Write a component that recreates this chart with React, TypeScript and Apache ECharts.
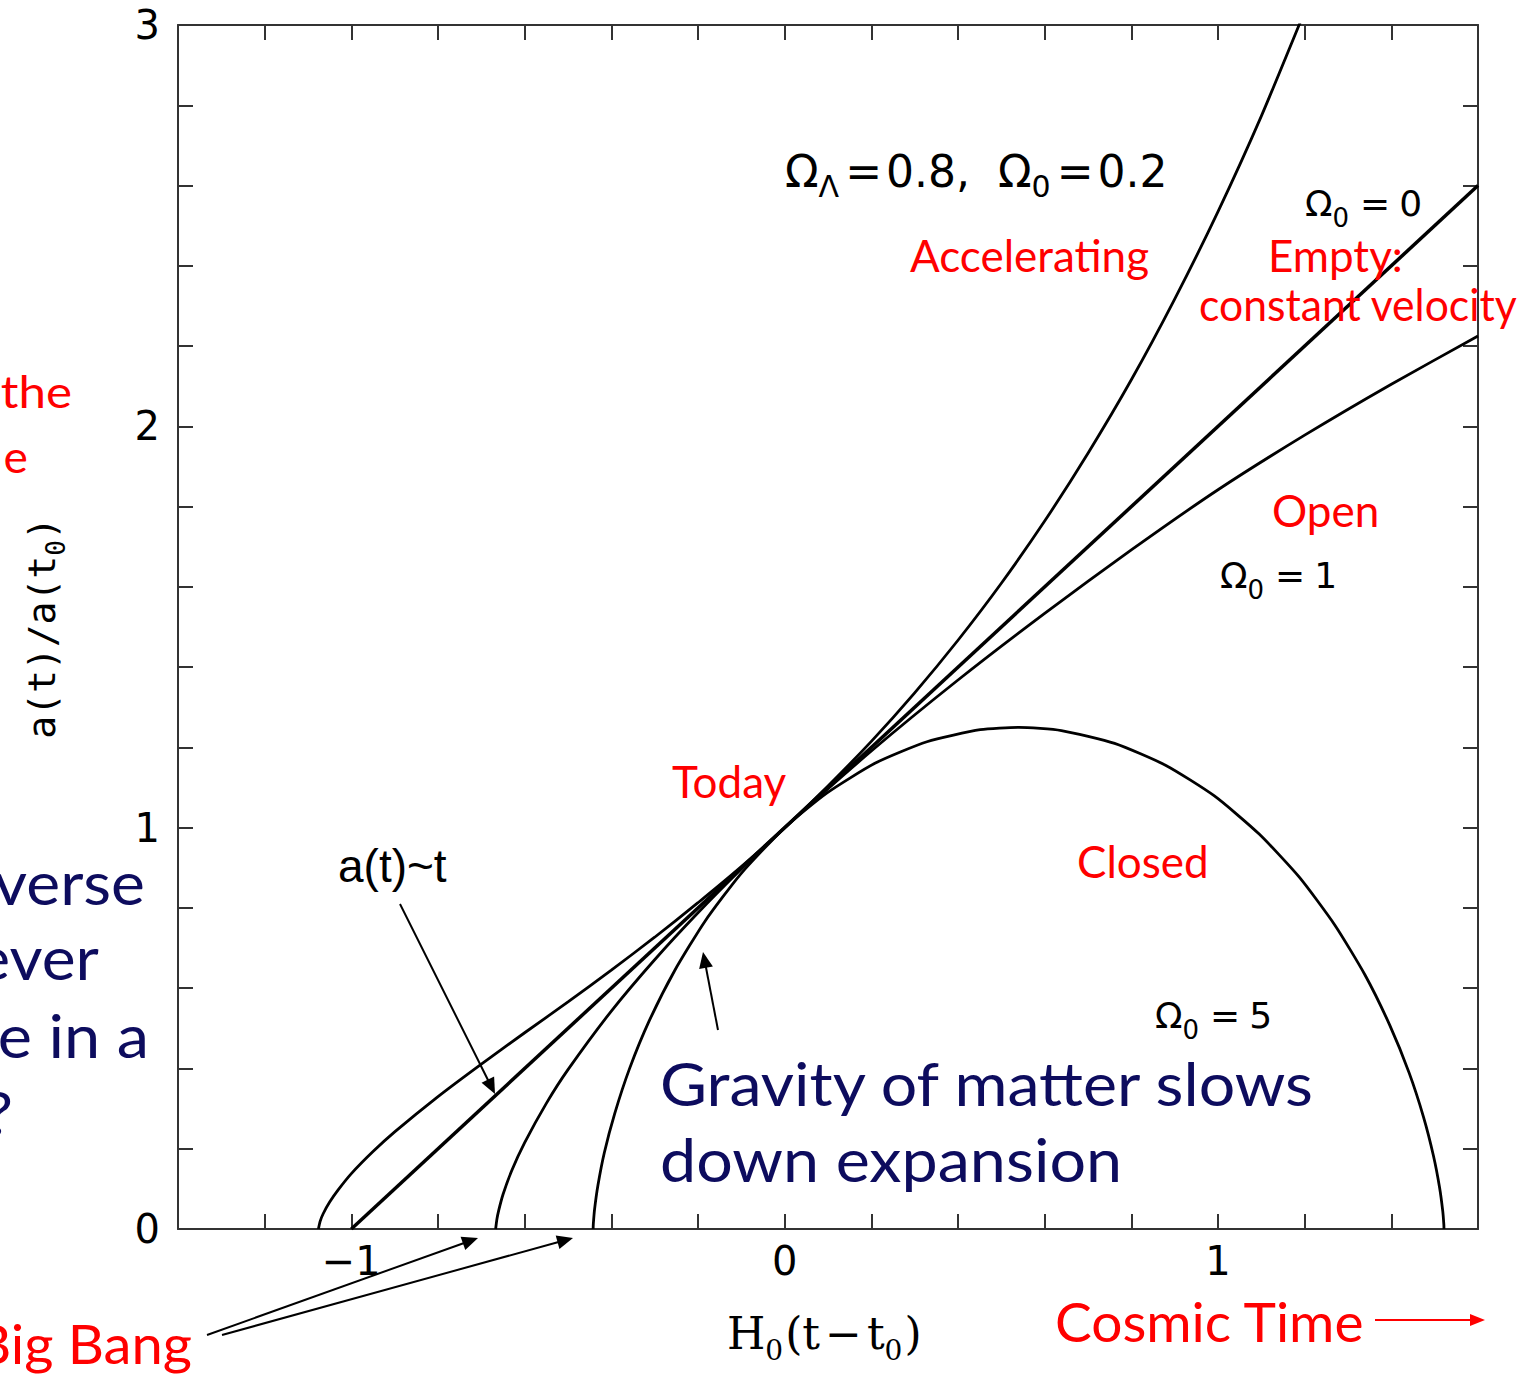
import React, { useEffect, useRef } from 'react';
import * as echarts from 'echarts';

// ---------- axes ----------
const X_MIN = -1.4;
const X_MAX = 1.6;
const Y_MIN = 0;
const Y_MAX = 3;
const TICK_STEP = 0.2;
const xTickLabelValues = [-1, 0, 1];
const yTickLabelValues = [0, 1, 2, 3];

// ---------- curves: [H0(t - t0), a(t)/a(t0)] ----------
// Omega0 = 0, empty universe: a(t) ~ t
const emptyCurve: [number, number][] = [
  [-1.0, 0.0],
  [1.6, 2.6],
];

// Omega0 = 1 (flat, matter only)
const flatMatterCurve: [number, number][] = [
  [-0.667, 0.0], [-0.664, 0.025], [-0.66, 0.046], [-0.65, 0.086], [-0.63, 0.145],
  [-0.6, 0.215], [-0.55, 0.313], [-0.5, 0.397], [-0.4, 0.543], [-0.3, 0.671],
  [-0.2, 0.788], [-0.1, 0.897], [0.0, 1.0], [0.2, 1.191], [0.4, 1.368],
  [0.6, 1.534], [0.8, 1.692], [1.0, 1.842], [1.2, 1.978], [1.4, 2.105], [1.6, 2.225],
];

// Omega_Lambda = 0.8, Omega0 = 0.2 (accelerating)
const acceleratingCurve: [number, number][] = [
  [-1.076, 0.0], [-1.072, 0.019], [-1.065, 0.038], [-1.05, 0.067], [-1.03, 0.098],
  [-1.0, 0.138], [-0.95, 0.193], [-0.9, 0.242], [-0.8, 0.33], [-0.7, 0.411],
  [-0.6, 0.489], [-0.5, 0.566], [-0.4, 0.645], [-0.3, 0.727], [-0.2, 0.813],
  [-0.1, 0.903], [0.0, 1.0], [0.1, 1.104], [0.2, 1.215], [0.3, 1.336], [0.4, 1.467],
  [0.5, 1.609], [0.6, 1.764], [0.7, 1.933], [0.8, 2.116], [0.9, 2.317],
  [1.0, 2.535], [1.1, 2.773], [1.2, 3.034],
];

// Omega0 = 5 (closed, recollapsing)
const closedCurve: [number, number][] = [
  [-0.442, 0.0], [-0.4416, 0.012], [-0.4387, 0.049], [-0.4309, 0.109], [-0.4162, 0.19],
  [-0.3924, 0.287], [-0.3582, 0.399], [-0.3124, 0.519], [-0.2543, 0.643], [-0.1838, 0.767],
  [-0.1011, 0.885], [0.0, 1.0], [0.097, 1.086], [0.2094, 1.161], [0.3283, 1.214],
  [0.4514, 1.244], [0.5405, 1.25], [0.6386, 1.242], [0.7614, 1.21], [0.8799, 1.155],
  [0.9917, 1.079], [1.095, 0.984], [1.1881, 0.876], [1.2698, 0.757], [1.3393, 0.633],
  [1.3963, 0.508], [1.4411, 0.389], [1.4743, 0.279], [1.4973, 0.182], [1.5114, 0.103],
  [1.5186, 0.045], [1.5212, 0.011], [1.5215, 0.0],
];

const RED = '#ff0000';
const NAVY = '#0d0c5e';
const ANN_FONT = 'Lato, "Noto Sans", sans-serif';
const HERSHEY = '"DejaVu Sans", sans-serif';

function txt(text: string, x: number, y: number, size: number, color: string, family: string, align = 'left', sx = 1) {
  return {
    type: 'text',
    x,
    y,
    scaleX: sx,
    z: 100,
    style: { text, fill: color, fontSize: size, fontFamily: family, align, verticalAlign: 'middle' },
  };
}

function arrow(x1: number, y1: number, x2: number, y2: number, color: string, lw = 2, hl = 16, hw = 6.5) {
  const dx = x2 - x1;
  const dy = y2 - y1;
  const L = Math.hypot(dx, dy);
  const ux = dx / L;
  const uy = dy / L;
  const bx = x2 - ux * hl;
  const by = y2 - uy * hl;
  const px = -uy * hw;
  const py = ux * hw;
  return [
    { type: 'line', z: 100, shape: { x1, y1, x2: bx + ux * 2, y2: by + uy * 2 }, style: { stroke: color, lineWidth: lw } },
    { type: 'polygon', z: 100, shape: { points: [[x2, y2], [bx + px, by + py], [bx - px, by - py]] }, style: { fill: color } },
  ];
}

// main tokens aligned to the line top, subscripts to the line bottom (line height set by the subscript)
function richStyles(size: number, subSize: number, drop: number, family: string, eqPad: number) {
  const subLH = Math.round(drop + 0.2 * subSize + 0.8 * size);
  return {
    m: { fontSize: size, lineHeight: size, fontFamily: family, verticalAlign: 'top', fill: '#000' },
    s: { fontSize: subSize, lineHeight: subLH, fontFamily: family, verticalAlign: 'bottom', fill: '#000', padding: [0, 2, 0, 0] },
    e: { fontSize: size, lineHeight: size, fontFamily: family, verticalAlign: 'top', fill: '#000', padding: [0, eqPad, 0, eqPad] },
  };
}

function richLabel(text: string, x: number, yCenter: number, size: number, subSize: number, drop: number, family: string, eqPad: number) {
  return {
    type: 'text',
    x,
    y: yCenter - size / 2,
    z: 100,
    style: { text, fill: '#000', align: 'left', verticalAlign: 'top', rich: richStyles(size, subSize, drop, family, eqPad) },
  };
}

export default function App() {
  const ref = useRef<HTMLDivElement>(null);

  useEffect(() => {
    document.body.style.margin = '0';
    if (!ref.current) return;
    const chart = echarts.init(ref.current, undefined, { renderer: 'svg' });

    const axisLine = { show: true, onZero: false, lineStyle: { color: '#333', width: 2 } };
    const axisTick = { show: true, inside: true, length: 15, lineStyle: { color: '#333', width: 2 } };
    const xFmt = (v: number) => {
      const r = Math.round(v);
      if (Math.abs(v - r) > 1e-6 || !xTickLabelValues.includes(r)) return '';
      return r < 0 ? '\u2212' + Math.abs(r) : String(r);
    };
    const yFmt = (v: number) => {
      const r = Math.round(v);
      if (Math.abs(v - r) > 1e-6 || !yTickLabelValues.includes(r)) return '';
      return String(r);
    };

    const lineSeries = (name: string, data: [number, number][], width: number) => ({
      name,
      type: 'line',
      data,
      showSymbol: false,
      symbol: 'none',
      smooth: 0.2,
      clip: true,
      lineStyle: { color: '#000', width },
      z: 5,
    });

    const monoFam = '"DejaVu Sans Mono", monospace';
    const graphic: any[] = [
      // y axis title (rotated)
      {
        type: 'text',
        x: 46,
        y: 628,
        rotation: Math.PI / 2,
        z: 100,
        style: {
          text: '{m|a(t)/a(t}{s|0}{m|)}',
          fill: '#000',
          align: 'center',
          verticalAlign: 'middle',
          rich: {
            m: { fontSize: 38, lineHeight: 38, fontFamily: monoFam, verticalAlign: 'top', fill: '#000' },
            s: { fontSize: 26, lineHeight: 46, fontFamily: monoFam, verticalAlign: 'bottom', fill: '#000' },
          },
        },
      },
      // x axis title
      {
        type: 'text',
        x: 727,
        y: 1311,
        z: 100,
        style: {
          text: '{m|H}{s|0}{m|(t}{e|\u2212}{m|t}{s|0}{m|)}',
          fill: '#000',
          align: 'left',
          verticalAlign: 'top',
          rich: richStyles(44, 28, 12, '"DejaVu Serif", serif', 5),
        },
      },
      // Omega labels
      richLabel('{m|\u03A9}{s|\u039B}{e|=}{m|0.8,  \u03A9}{s|0}{e|=}{m|0.2}', 785, 171, 44, 30, 11, HERSHEY, 4),
      richLabel('{m|\u03A9}{s|0}{e|=}{m|0}', 1305, 203, 36, 26, 12, HERSHEY, 9),
      richLabel('{m|\u03A9}{s|0}{e|=}{m|1}', 1220, 575, 36, 26, 12, HERSHEY, 9),
      richLabel('{m|\u03A9}{s|0}{e|=}{m|5}', 1155, 1015, 36, 26, 12, HERSHEY, 9),
      // red annotations
      txt('Accelerating', 910, 255, 44, RED, ANN_FONT),
      txt('Empty:', 1268, 255, 44, RED, ANN_FONT),
      txt('constant velocity', 1199, 304, 44, RED, ANN_FONT, 'left', 0.97),
      txt('Open', 1272, 510, 44, RED, ANN_FONT),
      txt('Today', 672, 781, 44, RED, ANN_FONT),
      txt('Closed', 1077, 861, 44, RED, ANN_FONT),
      txt('the', 72, 391, 44, RED, ANN_FONT, 'right', 1.12),
      txt('e', 28, 456, 44, RED, ANN_FONT, 'right', 1.05),
      txt('Big Bang', 192, 1343, 54, RED, ANN_FONT, 'right', 1.04),
      txt('Cosmic Time', 1055, 1321, 54, RED, ANN_FONT, 'left', 1.02),
      // black / navy annotations
      txt('a(t)~t', 338, 866, 46, '#000', '"Liberation Sans", Arial, sans-serif', 'left', 1.0),
      txt('Gravity of matter slows', 660, 1083, 60, NAVY, ANN_FONT, 'left', 1.074),
      txt('down expansion', 660, 1158, 60, NAVY, ANN_FONT, 'left', 1.077),
      txt('verse', 145, 882, 60, NAVY, ANN_FONT, 'right', 1.07),
      txt('ever', 99, 957, 60, NAVY, ANN_FONT, 'right', 1.07),
      txt('e in a', 149, 1034, 60, NAVY, ANN_FONT, 'right', 1.08),
      txt('?', 13, 1112, 60, NAVY, ANN_FONT, 'right', 1.07),
      // arrows
      ...arrow(400, 904, 495, 1094, '#000', 2, 16, 7),
      ...arrow(718, 1030, 703, 952, '#000', 2, 16, 7),
      ...arrow(207, 1335, 478, 1238, '#000', 2, 16, 7),
      ...arrow(222, 1335, 573, 1238, '#000', 2, 16, 7),
      ...arrow(1375, 1320, 1485, 1320, RED, 2, 15, 6),
    ];

    chart.setOption({
      animation: false,
      backgroundColor: '#fff',
      grid: { left: 178, right: 40, top: 25, bottom: 146, containLabel: false },
      xAxis: [
        {
          type: 'value', min: X_MIN, max: X_MAX, interval: TICK_STEP, position: 'bottom',
          axisLine, axisTick, splitLine: { show: false },
          axisLabel: { formatter: xFmt, fontSize: 40, fontFamily: HERSHEY, color: '#000', margin: 12 },
        },
        {
          type: 'value', min: X_MIN, max: X_MAX, interval: TICK_STEP, position: 'top',
          axisLine, axisTick, splitLine: { show: false }, axisLabel: { show: false },
        },
      ],
      yAxis: [
        {
          type: 'value', min: Y_MIN, max: Y_MAX, interval: TICK_STEP, position: 'left',
          axisLine, axisTick, splitLine: { show: false },
          axisLabel: { formatter: yFmt, fontSize: 40, fontFamily: HERSHEY, color: '#000', margin: 18 },
        },
        {
          type: 'value', min: Y_MIN, max: Y_MAX, interval: TICK_STEP, position: 'right',
          axisLine, axisTick, splitLine: { show: false }, axisLabel: { show: false },
        },
      ],
      series: [
        lineSeries('Omega0=0 (empty)', emptyCurve, 3.5),
        lineSeries('Omega0=1', flatMatterCurve, 2.8),
        lineSeries('OmegaL=0.8, Omega0=0.2', acceleratingCurve, 2.8),
        lineSeries('Omega0=5', closedCurve, 2.8),
      ],
      graphic,
    });

    return () => chart.dispose();
  }, []);

  return <div ref={ref} style={{ width: 1518, height: 1375 }} />;
}
